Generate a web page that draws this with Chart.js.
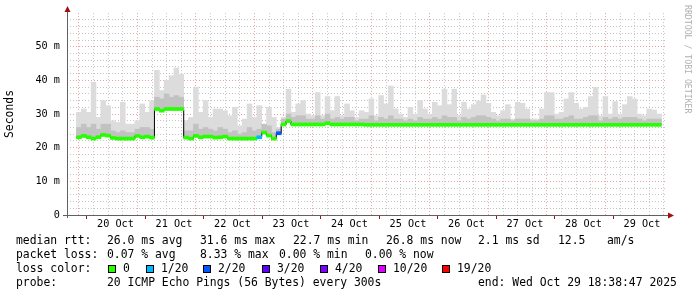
<!DOCTYPE html>
<html>
<head>
<meta charset="utf-8">
<script src="https://cdn.jsdelivr.net/npm/chart.js@4/dist/chart.umd.min.js"></script>
<style>
  html, body { margin: 0; background: #fff; }
  #wrap { width: 697px; height: 297px; }
</style>
</head>
<body>
<div id="wrap"><canvas id="smoke" width="697" height="297"></canvas></div>
<script>
// hours are counted from 20 Oct 00:00, one column = 2 hours
const firstHour = -3
const stepHours = 2
const xMin = -4.8
const xMax = 235.2

const median = [
  23.1, 23.5, 23.1, 22.7, 23.1, 23.8, 23.6, 22.9, 22.7, 22.7, 22.7, 22.7, 23.5, 23.1, 23.3, 23.0,
  31.5, 31.0, 31.5, 31.5, 31.5, 31.5,
  23.0, 22.7, 23.5, 23.1, 23.3, 23.3, 23.0,
  23.1, 23.3, 22.7, 22.7, 22.7, 22.7, 22.7, 22.7, 23.1, 24.5, 23.6, 22.7, 24.3,
  26.9, 27.9, 26.9, 26.9, 26.9, 26.9, 26.9, 26.9, 26.9, 27.3, 26.9, 26.9, 26.9, 26.9, 26.9, 26.9, 26.9,
  26.8, 26.8, 26.8, 26.8, 26.8, 26.8, 26.8, 26.8, 26.8, 26.8, 26.8, 26.8, 26.8, 26.8, 26.8, 26.8,
  26.8, 26.8, 26.8, 26.8, 26.8, 26.8, 26.8, 26.8, 26.8, 26.8, 26.8, 26.8, 26.8, 26.8, 26.8,
  26.8, 26.8, 26.8, 26.8, 26.8, 26.8, 26.8, 26.8, 26.8, 26.8, 26.8, 26.8, 26.8, 26.8, 26.8,
  26.8, 26.8, 26.8, 26.8, 26.8, 26.8, 26.8, 26.8, 26.8, 26.8, 26.8, 26.8, 26.8, 26.8, 26.8
]
const smokeMid = [
  26, 27, 26, 27, 25.5, 27, 27, 25, 24.5, 25, 24.5, 24.5, 25.5, 26, 26, 25.5,
  35, 34.5, 36, 35, 35.5, 35,
  25, 25, 27, 25.5, 26, 25.5, 25,
  26, 25.5, 24.5, 25, 24, 24.5, 26, 25, 25.5, 27, 26.5, 24.5, 25.5,
  28.5, 30, 29, 29.5, 29.5, 28.5, 28.5, 29.5, 28.5, 30, 28.5, 29, 28.5, 29, 29, 28, 28.5,
  28.5, 29.5, 28, 29, 28.5, 29.5, 28.5, 28.5, 28, 28.5, 28, 29, 28.5, 28.5, 29, 28.5,
  29.5, 29, 29, 28, 29, 28.5, 29, 29.5, 29.5, 29, 28.5, 28, 28.5, 28.5, 28,
  28.5, 28.5, 28.5, 28, 28, 28.5, 29.5, 29.5, 28.5, 28.5, 29, 29.5, 28.5, 28.5, 29,
  29.5, 29.5, 28, 29, 28.5, 29, 28.5, 29, 29, 29, 28.5, 28, 28.5, 28.5, 28.5
]
const smokeMax = [
  30.5, 31.5, 30.5, 39.5, 29, 34, 32.5, 28, 27.5, 33.5, 27, 27, 28, 33, 30.5, 34,
  43, 37, 40, 41.4, 43.7, 41.8,
  28, 29, 38, 30.5, 34, 29, 31.5,
  31.5, 31, 29.5, 32, 26.5, 28.5, 33, 29, 32.5, 26, 32, 29, 26,
  29, 37.4, 30.5, 33, 34, 30, 29.5, 36.4, 29.5, 35.2, 31, 35.2, 29.5, 33, 31, 29, 31,
  30.5, 34.5, 29.5, 35.5, 33, 38.3, 31.5, 30, 29, 32, 30, 34, 31.5, 30, 33.5, 32.5,
  37.4, 32.8, 37.4, 29.5, 33.5, 31.5, 32.8, 33.9, 35.7, 33.2, 30.5, 29.5, 31, 32.8, 28.5,
  33.5, 33.2, 31.5, 28.5, 28.5, 31.5, 36.4, 36.4, 30, 30.5, 34.5, 36.4, 33.2, 31.5, 32,
  35.2, 37.9, 29.5, 35.2, 30, 33.7, 30, 32.8, 35.2, 34.5, 30, 29.5, 31.5, 31.2, 30
]
// columns where pings were lost (hour of column centre, lost pings out of 20)
const lossHours = [71, 79]
const lossCount = [1, 2]

const lossSteps = [0, 1, 2, 3, 4, 10, 19]
const lossLabels = ['0', '1/20', '2/20', '3/20', '4/20', '10/20', '19/20']
const lossPalette = ['#26ff00', '#00b8ff', '#0059ff', '#5e00ff', '#7e00ff', '#dd00ff', '#ff0000']
const lossBoxX = [108, 146, 203, 262, 320, 378, 442]

const dayLabels = ['20 Oct', '21 Oct', '22 Oct', '23 Oct', '24 Oct', '25 Oct', '26 Oct', '27 Oct', '28 Oct', '29 Oct']
const yMax = 60

const statLines = [
  { y: 241, parts: [[16, 'median rtt:'], [107, '26.0 ms avg'], [200, '31.6 ms max'], [293, '22.7 ms min'], [386, '26.8 ms now'], [478, '2.1 ms sd'], [558, '12.5'], [607, 'am/s']] },
  { y: 255, parts: [[16, 'packet loss:'], [107, '0.07 % avg'], [200, '8.33 % max'], [279, '0.00 % min'], [365, '0.00 % now']] },
  { y: 269, parts: [[16, 'loss color:']] },
  { y: 283, parts: [[16, 'probe:'], [107, '20 ICMP Echo Pings (56 Bytes) every 300s'], [478, 'end: Wed Oct 29 18:38:47 2025']] }
]

const hours = median.map((m, i) => firstHour + i * stepHours)

function lossColor(h) {
    let n = lossHours.indexOf(h)
    let c = n < 0 ? 0 : lossCount[n]
    let k = 0
    for (let i = 0; i < lossSteps.length; i++) if (c >= lossSteps[i]) k = i
    return lossPalette[k]
}

const minorGrid = 'rgba(190,190,190,0.9)'
const majorGrid = 'rgba(230,150,150,0.9)'
const mono = '"DejaVu Sans Mono", monospace'

const rrdDecor = {
    id: 'rrdDecor',
    afterDraw(chart) {
        const ctx = chart.ctx
        const a = chart.chartArea
        const xs = chart.scales.x
        ctx.save()

        // axes with arrows
        ctx.strokeStyle = '#606060'
        ctx.lineWidth = 1
        ctx.beginPath()
        ctx.moveTo(a.left + 0.5, 9)
        ctx.lineTo(a.left + 0.5, a.bottom + 3)
        ctx.moveTo(a.left - 4, a.bottom + 0.5)
        ctx.lineTo(a.right + 4, a.bottom + 0.5)
        ctx.stroke()
        ctx.fillStyle = '#a01010'
        ctx.beginPath()
        ctx.moveTo(a.left + 0.5, 6)
        ctx.lineTo(a.left - 2.5, 12)
        ctx.lineTo(a.left + 3.5, 12)
        ctx.fill()
        ctx.beginPath()
        ctx.moveTo(a.right + 7, a.bottom + 0.5)
        ctx.lineTo(a.right + 1, a.bottom - 2.5)
        ctx.lineTo(a.right + 1, a.bottom + 3.5)
        ctx.fill()

        // day ticks under the axis
        ctx.strokeStyle = '#a01010'
        ctx.beginPath()
        for (let d = 0; d < dayLabels.length; d++) {
            let px = Math.round(xs.getPixelForValue(d * 24)) + 0.5
            ctx.moveTo(px, a.bottom + 1)
            ctx.lineTo(px, a.bottom + 4)
        }
        ctx.stroke()

        // vertical axis title
        ctx.fillStyle = '#000'
        ctx.font = '11.4px ' + mono
        ctx.textAlign = 'center'
        ctx.textBaseline = 'middle'
        ctx.save()
        ctx.translate(10, 114)
        ctx.rotate(-Math.PI / 2)
        ctx.fillText('Seconds', 0, 0)
        ctx.restore()

        // watermark
        ctx.save()
        ctx.fillStyle = '#b0b0b0'
        ctx.font = '8.2px ' + mono
        ctx.textAlign = 'left'
        ctx.translate(687, 5)
        ctx.rotate(Math.PI / 2)
        ctx.fillText('RRDTOOL / TOBI OETIKER', 0, 0)
        ctx.restore()

        // legend block
        ctx.font = '11.4px ' + mono
        ctx.textAlign = 'left'
        ctx.fillStyle = '#000'
        for (let line of statLines) {
            for (let [x, t] of line.parts) ctx.fillText(t, x, line.y)
        }
        for (let i = 0; i < lossLabels.length; i++) {
            let bx = lossBoxX[i]
            ctx.fillStyle = lossPalette[i]
            ctx.fillRect(bx, 265, 8, 8)
            ctx.strokeStyle = '#000'
            ctx.strokeRect(bx + 0.5, 265.5, 7, 7)
            ctx.fillStyle = '#000'
            ctx.fillText(lossLabels[i], bx + 15, 269)
        }
        ctx.restore()
    }
}

new Chart(document.getElementById('smoke'), {
    type: 'bar',
    data: {
        datasets: [
            {
                label: 'smoke',
                data: hours.map((h, i) => ({ x: h, y: [median[i], smokeMax[i]] })),
                backgroundColor: '#dcdcdc',
                grouped: false,
                barPercentage: 1,
                categoryPercentage: 1,
                order: 4
            },
            {
                label: 'smoke dense',
                data: hours.map((h, i) => ({ x: h, y: [median[i], smokeMid[i]] })),
                backgroundColor: '#c2c2c2',
                grouped: false,
                barPercentage: 1,
                categoryPercentage: 1,
                order: 3
            },
            {
                type: 'line',
                label: 'median edge',
                data: hours.map((h, i) => ({ x: h, y: median[i] })),
                borderColor: '#000',
                borderWidth: 1,
                pointRadius: 0,
                stepped: 'middle',
                order: 2
            },
            {
                label: 'median rtt',
                data: hours.map((h, i) => ({ x: h, y: [median[i] - 0.45, median[i] + 0.45] })),
                backgroundColor: hours.map(h => lossColor(h)),
                grouped: false,
                barPercentage: 1,
                categoryPercentage: 1,
                order: 1
            }
        ]
    },
    options: {
        responsive: false,
        animation: false,
        layout: { padding: { top: 12, right: 30, left: 0, bottom: 0 } },
        plugins: { legend: { display: false }, tooltip: { enabled: false } },
        scales: {
            x: {
                type: 'linear',
                min: xMin,
                max: xMax,
                afterBuildTicks: (scale) => {
                    let t = []
                    for (let v = 0; v < xMax; v += 6) t.push({ value: v })
                    scale.ticks = t
                },
                afterFit: (scale) => { scale.height = 82 },
                border: { display: false, dash: [1, 2] },
                grid: {
                    drawTicks: false,
                    color: (c) => c.tick && c.tick.value % 24 === 0 ? majorGrid : minorGrid
                },
                ticks: {
                    autoSkip: false,
                    maxRotation: 0,
                    padding: 3,
                    color: '#000',
                    font: { family: mono, size: 10.2 },
                    callback: (v) => v % 24 === 12 ? dayLabels[(v - 12) / 24] : ''
                }
            },
            y: {
                type: 'linear',
                min: 0,
                max: yMax,
                afterBuildTicks: (scale) => {
                    let t = []
                    for (let v = 0; v <= yMax; v += 2) t.push({ value: v })
                    scale.ticks = t
                },
                afterFit: (scale) => { scale.width = 67 },
                border: { display: false, dash: [1, 2] },
                grid: {
                    drawTicks: false,
                    color: (c) => {
                        let v = c.tick ? c.tick.value : 0
                        if (v === 0 || v === yMax) return 'rgba(0,0,0,0)'
                        return v % 10 === 0 ? majorGrid : minorGrid
                    }
                },
                ticks: {
                    autoSkip: false,
                    padding: 7,
                    color: '#000',
                    font: { family: mono, size: 10.2 },
                    callback: (v) => v % 10 !== 0 || v === yMax ? '' : (v === 0 ? '0' : v + ' m')
                }
            }
        }
    },
    plugins: [rrdDecor]
})
</script>
</body>
</html>
